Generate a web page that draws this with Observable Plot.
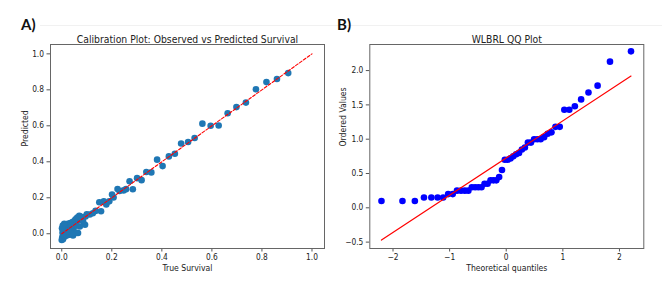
<!DOCTYPE html>
<html>
<head>
<meta charset="utf-8">
<script src="https://cdn.jsdelivr.net/npm/d3@7"></script>
<script src="https://cdn.jsdelivr.net/npm/@observablehq/plot@0.6"></script>
<style>
  html, body { margin: 0; padding: 0; background: white; }
  #wrap { position: relative; width: 662px; height: 283px; overflow: hidden; background: white; }
  #wrap > svg, #wrap > div { position: absolute; top: 0; }
  .panel { font-family: "Lato", "Open Sans", sans-serif; font-weight: 700; font-size: 15px; color: #111; position: absolute; }
</style>
</head>
<body>
<div id="wrap"></div>
<script>
// ---------- Panel A: calibration data (True Survival vs Predicted) ----------
const calibTrue = [
  0.905, 0.860, 0.818, 0.776, 0.736, 0.698, 0.663, 0.627, 0.595, 0.562,
  0.531, 0.505, 0.477, 0.452, 0.428, 0.403, 0.381, 0.358, 0.338, 0.319,
  0.301, 0.284, 0.271, 0.247, 0.257, 0.231, 0.223, 0.207, 0.201, 0.178,
  0.168, 0.190, 0.150, 0.157, 0.135, 0.124, 0.112, 0.100, 0.095, 0.093,
  0.065, 0.085, 0.080, 0.075, 0.070, 0.066, 0.062, 0.058, 0.055, 0.052,
  0.050, 0.047, 0.045, 0.043, 0.040, 0.038, 0.036, 0.034, 0.032, 0.030,
  0.028, 0.026, 0.024, 0.022, 0.020, 0.018, 0.016, 0.015, 0.013, 0.012,
  0.010, 0.009, 0.008, 0.006, 0.005, 0.004, 0.003, 0.002, 0.001, 0.000,
  0.005, 0.012, 0.020, 0.030, 0.045, 0.060, 0.072, 0.040, 0.025, 0.010
];
const calibPred = [
  0.893, 0.860, 0.843, 0.803, 0.729, 0.704, 0.670, 0.602, 0.600, 0.612,
  0.532, 0.510, 0.502, 0.445, 0.430, 0.376, 0.412, 0.341, 0.343, 0.298,
  0.309, 0.247, 0.292, 0.241, 0.248, 0.238, 0.249, 0.202, 0.218, 0.163,
  0.180, 0.180, 0.175, 0.125, 0.127, 0.114, 0.107, 0.108, 0.096, 0.050,
  0.004, 0.070, 0.085, 0.095, 0.100, 0.075, 0.090, 0.060, 0.080, 0.045,
  0.070, 0.030, 0.060, 0.065, 0.050, 0.020, 0.045, 0.060, 0.035, 0.050,
  0.010, 0.040, 0.055, 0.025, 0.045, 0.005, 0.035, 0.050, 0.015, 0.040,
  0.000, 0.030, 0.045, -0.010, 0.020, 0.045, 0.005, -0.020, 0.030, -0.035,
  -0.030, -0.015, -0.010, -0.005, -0.010, 0.005, 0.040, 0.000, 0.015, 0.055
];
const refLine = [0, 1];
const xTicksA = [0, 0.2, 0.4, 0.6, 0.8, 1.0];
const yTicksA = [0, 0.2, 0.4, 0.6, 0.8, 1.0];

// ---------- Panel B: QQ plot data ----------
const qqTheo = [
  -2.204, -1.833, -1.614, -1.453, -1.323, -1.212, -1.114, -1.026, -0.945, -0.870,
  -0.799, -0.732, -0.669, -0.608, -0.549, -0.492, -0.437, -0.383, -0.330, -0.277,
  -0.226, -0.175, -0.125, -0.075, -0.025, 0.025, 0.075, 0.125, 0.175, 0.226,
  0.277, 0.330, 0.383, 0.437, 0.492, 0.549, 0.608, 0.669, 0.732, 0.799,
  0.870, 0.945, 1.026, 1.114, 1.212, 1.323, 1.453, 1.614, 1.833, 2.204
];
const qqOrdered = [
  0.10, 0.10, 0.10, 0.15, 0.15, 0.15, 0.15, 0.20, 0.20, 0.25,
  0.25, 0.25, 0.25, 0.30, 0.30, 0.30, 0.30, 0.35, 0.35, 0.40,
  0.40, 0.40, 0.45, 0.55, 0.70, 0.70, 0.72, 0.75, 0.78, 0.80,
  0.85, 0.88, 0.95, 0.95, 1.00, 1.00, 1.00, 1.03, 1.08, 1.10,
  1.18, 1.18, 1.43, 1.43, 1.48, 1.58, 1.68, 1.78, 2.13, 2.28
];
const fitX = [-2.204, 2.204];
const fitY = [-0.47, 1.92];
const xTicksB = [-2, -1, 0, 1, 2];
const yTicksB = [-0.5, 0, 0.5, 1.0, 1.5, 2.0];

const FONT = '"DejaVu Sans Condensed", "DejaVu Sans", sans-serif';
const fmt1 = d => d.toFixed(1).replace("-", "\u2212");
const fmt0 = d => String(d).replace("-", "\u2212");

const calib = calibTrue.map((x, i) => ({x, y: calibPred[i]}));
const qq = qqTheo.map((x, i) => ({x, y: qqOrdered[i]}));

function axes(xt, yt, xf, yf) {
  return [
    Plot.axisX({ticks: xt, tickFormat: xf, tickSize: 3.5, tickPadding: 2.5, fontSize: 8.3, stroke: "#555", label: null}),
    Plot.axisY({ticks: yt, tickFormat: yf, tickSize: 3.5, tickPadding: 3, fontSize: 8.3, stroke: "#555", label: null})
  ];
}

const plotA = Plot.plot({
  width: 331, height: 283,
  marginLeft: 50, marginRight: 7, marginTop: 44, marginBottom: 35,
  x: {domain: [-0.045, 1.05]},
  y: {domain: [-0.082, 1.052]},
  style: {fontFamily: FONT, color: "#222", background: "transparent", overflow: "visible"},
  marks: [
    ...axes(xTicksA, yTicksA, fmt1, fmt1),
    Plot.dot(calib, {x: "x", y: "y", r: 3.3, fill: "#1f77b4", stroke: "none"}),
    Plot.line(refLine.map(v => ({x: v, y: v})), {x: "x", y: "y", stroke: "red", strokeWidth: 1.1, strokeDasharray: "3,1.8"}),
    Plot.frame({stroke: "#666", strokeWidth: 1}),
    Plot.text(["Calibration Plot: Observed vs Predicted Survival"], {frameAnchor: "top", dy: -8.8, fontSize: 10.3, fill: "#222"}),
    Plot.text(["True Survival"], {frameAnchor: "bottom", dy: 22.5, fontSize: 8.6, fill: "#222"}),
    Plot.text(["Predicted"], {frameAnchor: "left", dx: -25.2, rotate: -90, fontSize: 8.6, fill: "#222"})
  ]
});

const plotB = Plot.plot({
  width: 331, height: 283,
  marginLeft: 38.3, marginRight: 18.7, marginTop: 44, marginBottom: 35,
  x: {domain: [-2.41, 2.43]},
  y: {domain: [-0.593, 2.38]},
  style: {fontFamily: FONT, color: "#222", background: "transparent", overflow: "visible"},
  marks: [
    ...axes(xTicksB, yTicksB, fmt0, fmt1),
    Plot.dot(qq, {x: "x", y: "y", r: 3.3, fill: "#0000ff", stroke: "none"}),
    Plot.line(fitX.map((x, i) => ({x, y: fitY[i]})), {x: "x", y: "y", stroke: "red", strokeWidth: 1.2}),
    Plot.frame({stroke: "#666", strokeWidth: 1}),
    Plot.text(["WLBRL QQ Plot"], {frameAnchor: "top", dy: -8.8, fontSize: 10.3, fill: "#222"}),
    Plot.text(["Theoretical quantiles"], {frameAnchor: "bottom", dy: 22.5, fontSize: 8.6, fill: "#222"}),
    Plot.text(["Ordered Values"], {frameAnchor: "left", dx: -27, rotate: -90, fontSize: 8.6, fill: "#222"})
  ]
});

const wrap = document.getElementById("wrap");
// faint separator line at top
const sep = document.createElement("div");
sep.style.cssText = "position:absolute;left:40px;top:25px;width:622px;height:1px;background:#f1f1f1;";
wrap.appendChild(sep);

plotA.style.left = "0px";
plotB.style.left = "331px";
wrap.appendChild(plotA);
wrap.appendChild(plotB);

const labA = document.createElement("div");
labA.className = "panel"; labA.textContent = "A)";
labA.style.left = "21px"; labA.style.top = "15px";
const labB = document.createElement("div");
labB.className = "panel"; labB.textContent = "B)";
labB.style.left = "337px"; labB.style.top = "15px";
wrap.appendChild(labA);
wrap.appendChild(labB);
</script>
</body>
</html>
